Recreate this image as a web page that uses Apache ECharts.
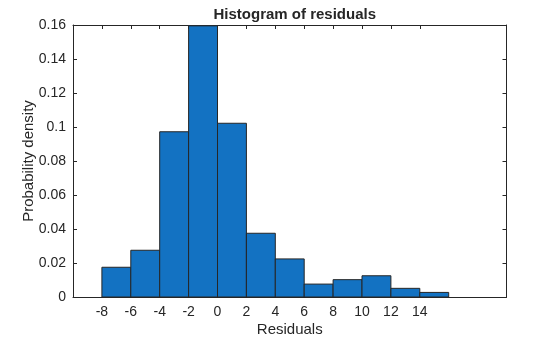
<!DOCTYPE html>
<html><head><meta charset="utf-8">
<script src="https://cdn.jsdelivr.net/npm/echarts@6/dist/echarts.min.js"></script>
<style>html,body{margin:0;padding:0;background:#fff}#c{width:560px;height:337px}</style>
</head><body><div id="c"></div>
<script>
const binStarts = [-8, -6, -4, -2, 0, 2, 4, 6, 8, 10, 12, 14];
const binWidth = 2;
const densities = [0.0175, 0.0275, 0.0972, 0.1595, 0.1022, 0.0375, 0.0224, 0.0076, 0.0102, 0.0125, 0.0051, 0.0027];
const xTicks = [-8, -6, -4, -2, 0, 2, 4, 6, 8, 10, 12, 14];
const yTicks = [0, 0.02, 0.04, 0.06, 0.08, 0.1, 0.12, 0.14, 0.16];

const data = binStarts.map((s, i) => [s, s + binWidth, densities[i]]);
const txt = '#262626';
const font = 'Liberation Sans, Arial, sans-serif';
const chart = echarts.init(document.getElementById('c'), null, {renderer: 'canvas'});

function xAx(pos, show) {
  return {
    type: 'value', position: pos, min: -10, max: 20, interval: 2,
    axisLine: {show: true, onZero: false, lineStyle: {color: txt, width: 1}},
    axisTick: {show: true, inside: true, length: 4, customValues: xTicks, lineStyle: {color: txt}},
    axisLabel: {show: show, customValues: xTicks, color: txt, fontSize: 14, fontFamily: font, margin: 8},
    splitLine: {show: false}
  };
}
function yAx(pos, show) {
  return {
    type: 'value', position: pos, min: 0, max: 0.16, interval: 0.02,
    axisLine: {show: true, onZero: false, lineStyle: {color: txt, width: 1}},
    axisTick: {show: true, inside: true, length: 4, customValues: yTicks, lineStyle: {color: txt}},
    axisLabel: {show: show, customValues: yTicks, color: txt, fontSize: 14, fontFamily: font, margin: 7,
      formatter: v => String(+(+v).toFixed(2))},
    splitLine: {show: false}
  };
}
const xa = xAx('bottom', true);
xa.name = 'Residuals'; xa.nameLocation = 'middle'; xa.nameGap = 25; xa.nameMoveOverlap = false;
xa.nameTextStyle = {color: txt, fontSize: 15, fontFamily: font};
const ya = yAx('left', true);
ya.name = 'Probability density'; ya.nameLocation = 'middle'; ya.nameGap = 37; ya.nameRotate = 90;
ya.nameMoveOverlap = false;
ya.nameTextStyle = {color: txt, fontSize: 15, fontFamily: font};

chart.setOption({
  animation: false,
  title: {text: 'Histogram of residuals', left: 289.75, textAlign: 'center', top: 2,
    textStyle: {color: txt, fontSize: 15, fontWeight: 'bold', fontFamily: font}},
  grid: {left: 73, right: 53.5, top: 25, bottom: 40, containLabel: false, outerBoundsMode: 'none'},
  xAxis: [xa, xAx('top', false)],
  yAxis: [ya, yAx('right', false)],
  series: [{
    type: 'custom', xAxisIndex: 0, yAxisIndex: 0,
    encode: {x: [0, 1], y: 2},
    data: data,
    renderItem: function (params, api) {
      const p0 = api.coord([api.value(0), api.value(2)]);
      const p1 = api.coord([api.value(1), 0]);
      return {
        type: 'rect',
        shape: {x: p0[0], y: p0[1], width: p1[0] - p0[0], height: p1[1] - p0[1]},
        style: {fill: '#1372C2', stroke: '#262626', lineWidth: 1}
      };
    }
  }]
});
</script></body></html>
